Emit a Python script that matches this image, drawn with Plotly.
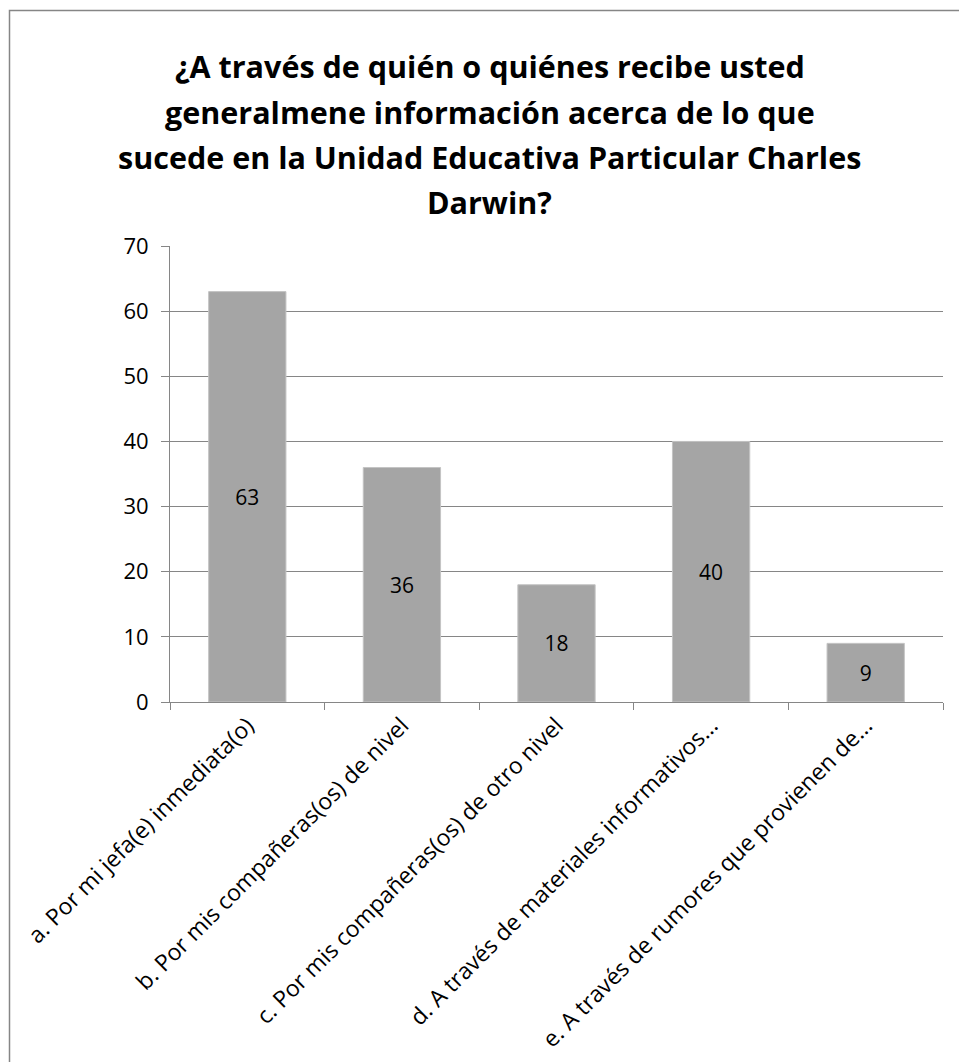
import plotly.graph_objects as go

categories = [
    "a. Por mi jefa(e) inmediata(o)",
    "b. Por mis compañeras(os) de nivel",
    "c. Por mis compañeras(os) de otro nivel",
    "d. A través de materiales informativos...",
    "e. A través de rumores que provienen de...",
]
values = [63, 36, 18, 40, 9]
title_lines = [
    "¿A través de quién o quiénes recibe usted",
    "generalmene información acerca de lo que",
    "sucede en la Unidad Educativa Particular Charles",
    "Darwin?",
]
y_ticks = [0, 10, 20, 30, 40, 50, 60, 70]

W, H = 959, 1062
L, R, T, B = 170, 16, 246, 360
pw, ph = W - L - R, H - T - B

FONT = "Open Sans"
GRID = "#868686"

fig = go.Figure(
    go.Bar(
        x=categories,
        y=values,
        text=[str(v) for v in values],
        textposition="inside",
        insidetextanchor="middle",
        textfont=dict(family=FONT, size=21, color="black"),
        marker=dict(color="#A5A5A5", line=dict(color="#C4C4C4", width=1)),
        width=0.5,
    )
)

def px_to_paper_x(px):
    return (px - L) / pw

def px_to_paper_y(py):
    return (H - B - py) / ph

# title lines
line_y = [66, 112, 157, 202]
for txt, yy in zip(title_lines, line_y):
    fig.add_annotation(
        text="<b>" + txt + "</b>",
        x=px_to_paper_x(W / 2 + 10), y=px_to_paper_y(yy),
        xref="paper", yref="paper", showarrow=False,
        xanchor="center", yanchor="middle",
        font=dict(family=FONT, size=30.5, color="black"),
    )

# outer frame
fig.add_shape(
    type="rect", xref="paper", yref="paper",
    x0=px_to_paper_x(9.5), x1=px_to_paper_x(1000),
    y0=px_to_paper_y(1100), y1=px_to_paper_y(10.5),
    line=dict(color=GRID, width=1.5), layer="below",
)

fig.update_layout(
    width=W, height=H,
    margin=dict(l=L, r=R, t=T, b=B, pad=0, autoexpand=False),
    paper_bgcolor="white", plot_bgcolor="white",
    showlegend=False,
    bargap=0.5,
)
fig.update_xaxes(
    type="category", automargin=False,
    showline=True, linecolor=GRID, linewidth=1,
    ticks="outside", tickson="boundaries", ticklen=7, tickcolor=GRID,
    tickangle=-45,
    tickfont=dict(family=FONT, size=23, color="black"),
    showgrid=False,
)
fig.update_yaxes(
    range=[0, 70], tickvals=y_ticks, automargin=False,
    showline=True, linecolor=GRID, linewidth=1,
    ticks="outside", ticklen=8, tickcolor=GRID,
    showgrid=True, gridcolor=GRID, gridwidth=1,
    zeroline=False,
    tickfont=dict(family=FONT, size=22, color="black"),
    ticklabelstandoff=8,
)

fig.write_html("out.html")
